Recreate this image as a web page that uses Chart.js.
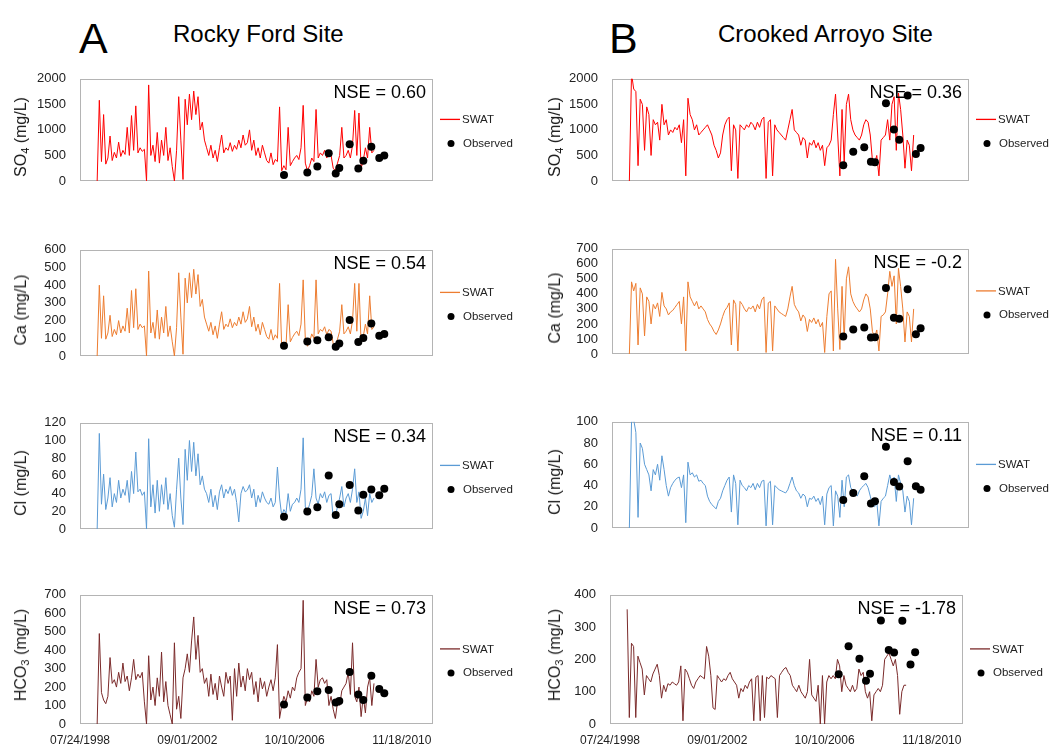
<!DOCTYPE html>
<html>
<head>
<meta charset="utf-8">
<script src="https://cdn.jsdelivr.net/npm/chart.js@4.4.1/dist/chart.umd.min.js"></script>
<style>
  html, body { margin:0; padding:0; background:#fff; }
  #wrap { position:relative; width:1054px; height:747px; overflow:hidden; font-family:"Liberation Sans", Arial, sans-serif; color:#000; }
  canvas { position:absolute; }
  .lbl { position:absolute; white-space:nowrap; line-height:1; }
  .ytitle { position:absolute; white-space:nowrap; font-size:16px; line-height:1; transform:translate(-50%,-50%) rotate(-90deg); color:#1a1a1a; }
  .ytitle sub { font-size:11px; vertical-align:-3px; line-height:0; }
</style>
</head>
<body>
<div id="wrap">
  <div class="lbl" style="left:79px; top:17px; font-size:43px;">A</div>
  <div class="lbl" style="left:173px; top:22px; font-size:24px;">Rocky Ford Site</div>
  <div class="lbl" style="left:609px; top:17px; font-size:43px;">B</div>
  <div class="lbl" style="left:718px; top:22px; font-size:24px;">Crooked Arroyo Site</div>
</div>
<script>
// ---------- DATA ----------
// simulation days since 07/24/1998 (SWAT output dates)
const days = [
  240,270,300,330,360,390,420,450,480,510,
  540,570,600,630,660,690,720,750,780,810,
  840,870,900,930,960,990,1020,1050,1080,1110,
  1140,1170,1200,1230,1260,1290,1320,1350,1380,1410,
  1440,1470,1500,1530,1560,1590,1620,1650,1680,1710,
  1740,1770,1800,1830,1860,1890,1920,1950,1980,2010,
  2040,2070,2100,2130,2160,2190,2220,2250,2280,2310,
  2340,2370,2400,2430,2460,2490,2520,2550,2580,2610,
  2640,2670,2700,2730,2760,2790,2820,2850,2880,2910,
  2940,2970,3000,3030,3060,3090,3120,3150,3180,3210,
  3240,3270,3300,3330,3360,3390,3420,3450,3480,3510,
  3540,3570,3600,3630,3660,3690,3720,3750,3780,3810,
  3840,3870,3900,3930,3960,3990,4020,4050,4080,4110,
  4140,4170
];

const xTickDays = [0, 1500, 3000, 4500];
const xTickLabels = ['07/24/1998', '09/01/2002', '10/10/2006', '11/18/2010'];
const seriesLabels = ['SWAT', 'Observed'];

// Rocky Ford Site - SWAT
const rfSO4 = [
  0,1580,380,1300,330,450,880,400,560,450,
  760,480,600,520,1050,500,1280,600,1470,550,
  650,580,620,0,1880,500,700,380,950,350,
  800,500,1050,400,650,280,0,600,1650,800,
  30,1600,1100,1700,1200,1760,1300,1650,1000,1150,
  800,650,500,700,450,600,380,650,900,550,
  650,600,750,580,700,620,800,650,900,700,
  750,1000,600,800,500,650,450,700,550,400,
  350,550,320,420,380,1450,200,300,220,1050,
  300,380,450,500,420,650,1480,350,200,300,
  450,380,1400,450,550,500,600,450,550,500,
  250,200,350,500,1050,450,500,600,450,700,
  1380,500,1330,250,400,650,450,1050,550,600
];
const rfCa = [
  0,400,100,340,95,130,230,110,150,120,
  200,130,170,140,270,130,370,160,380,150,
  180,160,170,0,480,130,190,100,260,95,
  220,130,280,110,170,80,0,160,470,220,
  10,440,300,470,330,490,350,460,280,320,
  220,180,140,190,120,170,100,180,250,150,
  180,165,210,160,190,170,220,180,250,190,
  210,280,165,220,140,180,120,190,150,110,
  95,150,90,120,100,410,50,80,60,290,
  80,105,125,140,115,180,430,95,55,80,
  125,100,430,125,150,140,165,120,150,140,
  70,55,95,140,290,125,140,165,125,200,
  410,140,410,70,110,180,125,340,150,165
];
const rfCl = [
  0,108,28,62,22,35,58,25,40,30,
  55,35,45,38,55,30,65,40,87,42,
  45,38,42,0,102,25,50,18,55,20,
  50,28,58,22,40,15,2,45,80,35,
  5,90,55,100,65,98,60,85,50,60,
  45,40,30,45,25,38,22,42,50,35,
  45,40,48,38,45,30,8,40,48,42,
  44,50,35,45,25,38,30,42,35,30,
  28,35,25,30,70,35,15,22,18,40,
  20,28,30,35,30,45,103,25,20,28,
  38,68,35,28,40,35,42,30,38,40,
  12,15,25,35,48,25,35,40,30,45,
  68,30,42,12,20,35,15,40,30,35
];
const rfHCO3 = [
  0,490,170,130,110,150,360,220,240,200,
  280,220,330,230,260,180,250,350,240,270,
  250,280,120,0,370,130,200,100,250,150,
  390,120,230,100,50,0,440,80,150,30,
  250,300,380,280,450,580,350,480,280,300,
  220,250,150,270,160,220,130,260,200,150,
  280,220,260,20,300,150,330,200,260,180,
  300,240,280,160,230,120,250,190,230,150,
  200,240,180,250,430,30,100,150,120,180,
  140,200,180,250,280,300,670,100,140,120,
  180,150,350,200,240,250,220,240,100,150,
  80,30,120,100,180,200,220,280,160,440,
  150,120,200,40,150,60,200,250,100,220
];

// Rocky Ford Site - observed
const rfObsDays = [2852,3178,3318,3477,3575,3625,3770,3891,3961,4073,4184,4254];
const rfObsSO4  = [118,168,286,543,148,252,721,247,395,672,449,499];
const rfObsCa   = [58,82,89,106,52,70,204,79,101,184,115,124];
const rfObsCl   = [13.8,19.9,24.5,60.4,15.8,27.9,49.8,21,38.8,44.6,38,45.5];
const rfObsHCO3 = [105,144,177,184,117,125,282,160,130,261,190,167];

// Crooked Arroyo Site - SWAT
const caSO4 = [
  0,2100,1800,1750,300,1600,1500,600,1450,1300,
  500,1200,1100,1150,800,1500,1100,1200,900,1000,
  950,1050,1000,1100,750,1200,100,1620,1300,1200,
  1000,1100,900,950,1000,1050,1100,1000,900,700,
  600,450,550,900,1100,1200,1250,200,1100,1000,
  50,1100,1050,1000,1100,1050,1150,1100,1000,1150,
  1050,1200,1250,50,1150,1200,100,1100,1000,950,
  900,850,800,1000,1200,1400,1000,950,900,700,
  850,800,450,750,700,800,650,750,600,700,
  300,650,700,800,1300,1700,900,100,1400,350,
  1500,1700,1200,1000,900,850,800,900,1100,1200,
  1150,900,400,350,500,100,800,850,900,1200,
  800,1500,1650,600,1720,1400,900,250,800,700,
  200,900
];
const caCa = [
  0,480,420,470,60,440,400,120,380,350,
  200,330,300,340,250,410,320,300,260,280,
  290,310,330,350,200,380,20,480,380,350,
  320,350,300,320,300,280,230,200,180,150,
  130,160,200,250,290,310,340,60,360,330,
  20,350,330,300,280,310,300,320,280,330,
  300,360,380,10,340,350,20,320,300,280,
  270,260,250,300,380,450,330,300,280,220,
  260,240,150,230,210,240,200,230,180,210,
  10,250,400,420,20,630,300,30,450,100,
  500,580,400,350,320,300,280,300,360,400,
  380,300,150,110,160,20,250,260,280,400,
  550,450,520,200,570,450,300,80,280,250,
  80,300
];
const caCl = [
  0,100,102,90,10,80,75,60,55,50,
  35,55,50,60,45,68,55,40,30,38,
  42,45,47,48,38,50,5,62,50,52,
  48,50,44,45,42,40,30,25,22,20,
  18,25,28,35,40,45,48,15,50,42,
  3,45,40,38,35,40,38,42,36,42,
  38,44,45,2,42,44,3,40,38,36,
  35,34,33,36,42,48,40,35,33,28,
  32,30,20,28,27,30,25,28,22,30,
  3,32,38,40,2,35,30,10,45,20,
  48,50,38,35,33,30,35,38,40,42,
  38,30,22,20,25,2,25,28,30,40,
  50,42,48,25,50,42,35,15,30,25,
  3,28
];
const caHCO3 = [
  355,20,250,240,20,210,190,170,90,150,
  140,130,155,170,185,150,80,120,100,125,
  120,130,125,120,130,180,10,170,160,140,
  120,110,130,140,150,145,140,240,210,150,
  50,45,150,140,130,140,135,150,160,140,
  130,120,80,110,100,120,110,130,140,10,
  145,150,10,150,20,145,140,150,145,140,
  20,150,160,170,175,160,150,120,110,100,
  120,100,90,80,100,200,90,80,70,120,
  0,150,0,130,150,140,150,140,200,180,
  100,150,120,110,100,120,100,110,170,150,
  160,100,80,100,10,90,100,110,100,120,
  200,210,220,200,180,200,150,30,100,120,
  120
];

// Crooked Arroyo Site - observed
const caObsDays = [3197,3335,3487,3579,3635,3787,3897,3971,4087,4201,4266];
const caObsSO4  = [306,573,662,375,365,1521,1007,805,1674,528,647];
const caObsCa   = [117,163,176,110,112,439,241,234,431,132,171];
const caObsCl   = [26.3,33,48.8,23,25.1,76.6,43.3,39,62.9,39.2,35.9];
const caObsHCO3 = [153.7,240.6,202,133.7,155.6,320.8,229,221.5,319.8,184,222.4];

const nseValues = {
  rf: ['NSE = 0.60', 'NSE = 0.54', 'NSE = 0.34', 'NSE = 0.73'],
  ca: ['NSE = 0.36', 'NSE = -0.2', 'NSE = 0.11', 'NSE = -1.78']
};

// ---------- LAYOUT / STYLE ----------
const FONT = '"Liberation Sans", Arial, sans-serif';
const colors = ['#ff0000', '#ed7d31', '#5b9bd5', '#7b2b2b'];
const yTitles = [['SO', '4', ' (mg/L)'], ['Ca (mg/L)', '', ''], ['Cl (mg/L)', '', ''], ['HCO', '3', ' (mg/L)']];
const yScales = { rf: [[2000, 500], [600, 100], [120, 20], [700, 100]], ca: [[2000, 500], [700, 100], [100, 20], [400, 100]] };
const boxes = {
  rf: [[80, 433, 69, 204], [80, 433, 240, 379], [80, 433, 413, 552], [80, 433, 585, 724]],
  ca: [[612, 969, 69, 204], [612, 969, 239, 377], [612, 969, 412, 551], [610, 963, 585, 724]]
};
const colInfo = { rf: { canvasLeft: 0, canvasW: 530, titleX: 21 }, ca: { canvasLeft: 530, canvasW: 524, titleX: 555 } };

const framePlugin = {
  id: 'frame',
  beforeDatasetsDraw(chart) {
    const { ctx, chartArea: a } = chart;
    ctx.save();
    ctx.strokeStyle = '#b4b4b4';
    ctx.lineWidth = 1;
    ctx.strokeRect(Math.round(a.left) + 0.5, Math.round(a.top) + 0.5, Math.round(a.right - a.left) - 1, Math.round(a.bottom - a.top) - 1);
    ctx.restore();
  }
};
const infoPlugin = {
  id: 'panelInfo',
  afterDraw(chart, args, opts) {
    const { ctx, chartArea: a } = chart;
    const ds = chart.data.datasets;
    ctx.save();
    ctx.fillStyle = '#000';
    ctx.font = '18px ' + FONT;
    ctx.textAlign = 'right';
    ctx.textBaseline = 'middle';
    ctx.fillText(opts.nse, a.right - 7, a.top + 14);
    const cy = (a.top + a.bottom) / 2;
    ctx.strokeStyle = opts.color;
    ctx.lineWidth = 1.3;
    ctx.beginPath();
    ctx.moveTo(a.right + 7, cy - 10.5);
    ctx.lineTo(a.right + 27, cy - 10.5);
    ctx.stroke();
    ctx.font = '11.5px ' + FONT;
    ctx.textAlign = 'left';
    ctx.fillStyle = '#222';
    ctx.fillText(ds[0].label, a.right + 29, cy - 10);
    ctx.beginPath();
    ctx.arc(a.right + 18, cy + 13.5, 3.5, 0, Math.PI * 2);
    ctx.fillStyle = '#000';
    ctx.fill();
    ctx.fillStyle = '#222';
    ctx.fillText(ds[1].label, a.right + 30, cy + 13.5);
    ctx.restore();
  }
};

const wrap = document.getElementById('wrap');
const siteData = {
  rf: { swat: [rfSO4, rfCa, rfCl, rfHCO3], obsDays: rfObsDays, obs: [rfObsSO4, rfObsCa, rfObsCl, rfObsHCO3] },
  ca: { swat: [caSO4, caCa, caCl, caHCO3], obsDays: caObsDays, obs: [caObsSO4, caObsCa, caObsCl, caObsHCO3] }
};

['rf', 'ca'].forEach(site => {
  const ci = colInfo[site];
  for (let r = 0; r < 4; r++) {
    const [bl, br, bt, bb] = boxes[site][r];
    const isBottom = r === 3;
    const top = bt - 12;
    const h = isBottom ? 747 - top : (bb - bt) + 24;
    const cv = document.createElement('canvas');
    cv.width = ci.canvasW; cv.height = h;
    cv.style.left = ci.canvasLeft + 'px'; cv.style.top = top + 'px';
    cv.style.width = ci.canvasW + 'px'; cv.style.height = h + 'px';
    wrap.appendChild(cv);

    const t = document.createElement('div');
    t.className = 'ytitle';
    t.style.left = ci.titleX + 'px';
    t.style.top = ((bt + bb) / 2) + 'px';
    const yt = yTitles[r];
    t.innerHTML = yt[0] + (yt[1] ? '<sub>' + yt[1] + '</sub>' : '') + yt[2];
    wrap.appendChild(t);

    const sd = siteData[site];
    const swatPts = sd.swat[r].map((v, i) => ({ x: days[i], y: v }));
    const obsPts = sd.obs[r].map((v, i) => ({ x: sd.obsDays[i], y: v }));
    const [ymax, ystep] = yScales[site][r];
    const yW = bl - ci.canvasLeft;
    const padR = ci.canvasLeft + ci.canvasW - br;

    new Chart(cv, {
      type: 'scatter',
      data: {
        datasets: [
          { label: seriesLabels[0], data: swatPts, showLine: true, borderColor: colors[r], backgroundColor: colors[r], borderWidth: 1, pointRadius: 0, tension: 0, order: 2 },
          { label: seriesLabels[1], data: obsPts, showLine: false, borderColor: '#000', backgroundColor: '#000', pointRadius: 4, pointBorderWidth: 0, order: 1 }
        ]
      },
      options: {
        responsive: false, animation: false, devicePixelRatio: 1,
        layout: { padding: { top: 12, right: padR, bottom: isBottom ? 0 : 12, left: 0 } },
        plugins: { legend: { display: false }, tooltip: { enabled: false }, panelInfo: { nse: nseValues[site][r], color: colors[r] } },
        scales: {
          x: {
            type: 'linear', min: 0, max: 4935, display: isBottom,
            grid: { display: false, drawTicks: false }, border: { display: false },
            afterBuildTicks: s => { s.ticks = xTickDays.map(v => ({ value: v })); },
            afterFit: s => { s.height = 23; },
            ticks: { autoSkip: false, maxRotation: 0, padding: 9, color: '#222', font: { family: FONT, size: 12 },
              callback: v => { const k = xTickDays.indexOf(v); return k >= 0 ? xTickLabels[k] : ''; } }
          },
          y: {
            min: 0, max: ymax,
            grid: { display: false, drawTicks: false }, border: { display: false },
            afterFit: s => { s.width = yW; },
            ticks: { stepSize: ystep, autoSkip: false, padding: 14, color: '#222', font: { family: FONT, size: 13 },
              callback: v => String(v) }
          }
        }
      },
      plugins: [framePlugin, infoPlugin]
    });
  }
});
</script>
</body>
</html>
